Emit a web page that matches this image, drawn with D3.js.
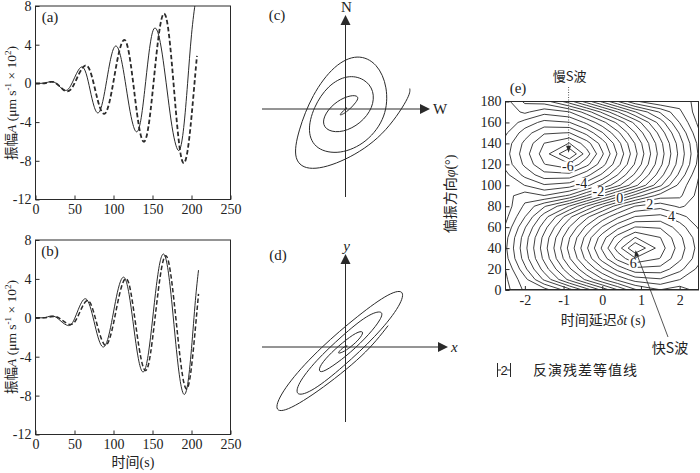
<!DOCTYPE html>
<html><head><meta charset="utf-8">
<script src="https://cdn.jsdelivr.net/npm/d3@7"></script>
<style>
body{margin:0;background:#fff}
svg{display:block}
text{font-family:'Liberation Serif','Noto Sans CJK SC',serif;fill:#222}
.cjk{font-family:'Noto Sans CJK SC','Liberation Serif',sans-serif}
</style>
</head><body>
<svg id="chart" width="700" height="473"></svg>
<script>
// ---------- data: waveforms (a) ----------
const timeA = [0,5,10,15,20,25,30,35,40,45,50,55,60,65,70,75,80,85,90,95,100,105,110,115,120,125,130,135,140,145,150,155,160,165,170,175,180,185,190,195,200,205,207];
const solidA = [0,0,0.02,0.1,0.2,0.09,-0.26,-0.61,-0.71,-0.26,0.58,1.37,1.7,1.0,-0.68,-2.35,-3.05,-2.27,-0.29,2.0,3.58,3.75,2.48,0.21,-2.32,-4.27,-5.0,-3.8,-0.72,2.84,5.29,5.61,4.22,1.61,-1.53,-4.45,-6.39,-6.83,-4.57,0.01,5.03,8.39,8.93];
const dashedA = [0,0,0,0.08,0.15,0.09,-0.22,-0.6,-0.81,-0.64,0.0,0.86,1.57,1.85,1.29,-0.14,-1.8,-2.94,-3.04,-1.86,0.21,2.44,4.04,4.44,3.06,0.21,-3.01,-5.37,-5.97,-4.36,-0.98,2.94,6.04,7.21,5.73,1.87,-2.9,-6.76,-8.24,-6.94,-3.44,1.08,2.84];
// ---------- data: waveforms (b) ----------
const timeB = [0,5,10,15,20,25,30,35,40,45,50,55,60,65,70,75,80,85,90,95,100,105,110,115,120,125,130,135,140,145,150,155,160,165,170,175,180,185,190,195,200,205,209];
const solidB = [0,0,0,0.08,0.19,0.12,-0.16,-0.51,-0.75,-0.74,-0.11,0.88,1.71,1.93,1.16,-0.36,-1.95,-2.91,-2.77,-1.45,0.59,2.62,3.94,4.02,2.4,-0.39,-3.31,-5.23,-5.39,-3.53,-0.23,3.32,5.86,6.51,4.87,1.41,-2.75,-6.21,-7.85,-6.87,-3.15,1.79,4.9];
const dashedB = [0,0,0,0.04,0.11,0.13,-0.01,-0.29,-0.56,-0.7,-0.46,0.26,1.12,1.72,1.55,0.46,-1.01,-2.27,-2.83,-2.15,-0.57,1.41,3.12,4.0,3.45,1.24,-1.58,-4.07,-5.38,-4.75,-2.18,1.19,4.31,6.2,5.95,3.52,-0.08,-3.81,-6.6,-7.2,-5.03,-1.06,2.46];
const waveXTicks = [0,50,100,150,200,250];
const waveYTicks = [8,4,0,-4,-8,-12];

// ---------- data: residual contour grid (e) ----------
const delayCols = [-2.5,-2,-1.5,-0.85,-0.4,0,0.4,0.85,1.5,2,2.5];
const phiRows = [0,10,20,30,40,50,60,70,80,90,100,110,120,130,140,150,160,170,180];
const residualGrid = [
  [-3.2,-2.4,-2.25,-1.22,-0.26,0.61,1.47,2.41,2.98,2.72,3.2],
  [-3.1,-2.17,-0.91,0.65,1.64,2.44,3.13,3.74,3.94,3.51,3.1],
  [-2.99,-1.63,-0.28,1.4,2.5,3.4,4.17,4.84,4.81,4.16,3.35],
  [-2.69,-1.27,0.13,1.94,3.17,4.21,5.15,5.93,5.48,4.61,3.68],
  [-2.59,-1.15,0.28,2.15,3.44,4.58,5.73,7.02,5.75,4.77,3.79],
  [-2.67,-1.25,0.16,1.97,3.2,4.27,5.23,6.02,5.51,4.63,3.7],
  [-2.93,-1.55,-0.2,1.51,2.63,3.55,4.34,5.02,4.94,4.25,3.42],
  [-3.15,-2.02,-0.73,0.85,1.87,2.68,3.38,4.02,4.16,3.69,3.15],
  [-3.3,-2.4,-1.57,-0.47,0.52,1.39,2.25,3.02,3.31,2.9,3.3],
  [-3.2,-2.72,-2.98,-2.41,-1.47,-0.61,0.26,1.22,2.25,2.4,3.2],
  [-3.1,-3.51,-3.94,-3.74,-3.13,-2.44,-1.64,-0.65,0.91,2.17,3.1],
  [-3.35,-4.16,-4.81,-4.84,-4.17,-3.4,-2.5,-1.4,0.28,1.63,2.99],
  [-3.68,-4.61,-5.48,-5.93,-5.15,-4.21,-3.17,-1.94,-0.13,1.27,2.69],
  [-3.79,-4.77,-5.75,-7.02,-5.73,-4.58,-3.44,-2.15,-0.28,1.15,2.59],
  [-3.7,-4.63,-5.51,-6.02,-5.23,-4.27,-3.2,-1.97,-0.16,1.25,2.67],
  [-3.42,-4.25,-4.94,-5.02,-4.34,-3.55,-2.63,-1.51,0.2,1.55,2.93],
  [-3.15,-3.69,-4.16,-4.02,-3.38,-2.68,-1.87,-0.85,0.73,2.02,3.15],
  [-3.3,-2.9,-3.31,-3.02,-2.25,-1.39,-0.52,0.47,1.57,2.4,3.3],
  [-3.2,-2.4,-2.25,-1.22,-0.26,0.61,1.47,2.41,2.98,2.72,3.2]
];
const contourLevels = [-6.5,-6,-5.5,-5,-4.5,-4,-3.5,-3,-2.5,-2,-1.5,-1,-0.5,0,0.5,1,1.5,2,2.5,3,3.5,4,4.5,5,5.5,6,6.5];
const contourLabelText = ["-6","-4","-2","0","2","4","6"];
const contourLabelDelay = [-0.89,-0.54,-0.1,0.45,1.23,1.79,0.8];
const contourLabelPhi = [118,102.5,94.6,88.3,82.5,70.5,25.4];
const delayTicks = [-2,-1,0,1,2];
const phiTicks = [0,20,40,60,80,100,120,140,160,180];

// ---------- drawing ----------
const svg = d3.select("#chart");
const ink = "#2a2a2a";

function waveformPanel(top, bottom, times, solid, dashed, tag, showXTitle, dashW){
  const h = bottom - top;
  const x = d3.scaleLinear().domain([0,250]).range([35.5,230.5]);
  const y = d3.scaleLinear().domain([-12,8]).range([bottom, top]);
  const g = svg.append("g");
  const cid = "clip"+tag;
  svg.append("clipPath").attr("id",cid).append("rect")
    .attr("x",35.5).attr("y",top).attr("width",195).attr("height",h);
  const ax = g.append("g").attr("transform",`translate(0,${bottom})`)
    .call(d3.axisBottom(x).tickValues(waveXTicks).tickSizeInner(-4).tickSizeOuter(0).tickPadding(5).tickFormat(d=>String(d)));
  const ay = g.append("g").attr("transform","translate(35.5,0)")
    .call(d3.axisLeft(y).tickValues(waveYTicks).tickSizeInner(-4).tickSizeOuter(0).tickPadding(4).tickFormat(d=>String(d)));
  [ax,ay].forEach(a=>{a.select(".domain").remove();a.selectAll("line").attr("stroke",ink);
    a.selectAll("text").style("font-size","14px").attr("fill",ink).style("font-family","'Liberation Serif',serif");});
  g.append("rect").attr("x",35.5).attr("y",top).attr("width",195).attr("height",h)
    .attr("fill","none").attr("stroke",ink).attr("stroke-width",1);
  const line = d3.line().x((d,i)=>x(times[i])).y(d=>y(d)).curve(d3.curveNatural);
  g.append("path").attr("clip-path",`url(#${cid})`).attr("d",line(solid))
    .attr("fill","none").attr("stroke",ink).attr("stroke-width",1);
  g.append("path").attr("clip-path",`url(#${cid})`).attr("d",line(dashed))
    .attr("fill","none").attr("stroke",ink).attr("stroke-width",dashW).attr("stroke-dasharray","4.5,2.5");
  g.append("text").attr("x",50).attr("y",top+16).attr("text-anchor","middle").style("font-size","15px").text(`(${tag})`);
  // y title
  const t = g.append("text").attr("transform",`translate(16,${top+97}) rotate(-90)`)
    .attr("text-anchor","middle").style("font-size","13.5px");
  t.append("tspan").attr("class","cjk").text("振幅");
  t.append("tspan").style("font-style","italic").text("A");
  t.append("tspan").text(" (μm s");
  t.append("tspan").attr("dy",-5).style("font-size","9px").text("-1");
  t.append("tspan").attr("dy",5).text(" × 10");
  t.append("tspan").attr("dy",-5).style("font-size","9px").text("2");
  t.append("tspan").attr("dy",5).text(")");
  if(showXTitle){
    const xt = g.append("text").attr("x",133).attr("y",467).attr("text-anchor","middle").style("font-size","14px");
    xt.append("tspan").attr("class","cjk").text("时间");
    xt.append("tspan").text("(s)");
  }
}
waveformPanel(6, 199.5, timeA, solidA, dashedA, "a", false, 1.8);
waveformPanel(240, 434.5, timeB, solidB, dashedB, "b", true, 1.5);

// particle motion panels
function arrowHead(g, tip, dir){
  const L=10, W=5;
  let pts;
  if(dir==="up") pts=[[tip[0],tip[1]],[tip[0]-W,tip[1]+L],[tip[0]+W,tip[1]+L]];
  else pts=[[tip[0],tip[1]],[tip[0]-L,tip[1]-W],[tip[0]-L,tip[1]+W]];
  g.append("path").attr("d","M"+pts.map(p=>p.join(",")).join("L")+"Z").attr("fill",ink);
}
function motionPanel(cx, cy, top, bottom, left, right, scale, xs, ys, tag, yLab, xLab, italic, labPos){
  const g = svg.append("g");
  g.append("line").attr("x1",cx).attr("x2",cx).attr("y1",top+8).attr("y2",bottom).attr("stroke",ink);
  g.append("line").attr("x1",left).attr("x2",right-8).attr("y1",cy).attr("y2",cy).attr("stroke",ink);
  arrowHead(g,[cx,top],"up");
  arrowHead(g,[right,cy],"right");
  const px = d3.scaleLinear().domain([-1,1]).range([cx-scale,cx+scale]);
  const py = d3.scaleLinear().domain([-1,1]).range([cy+scale,cy-scale]);
  const line = d3.line().x(d=>px(d[0])).y(d=>py(d[1])).curve(d3.curveNatural);
  g.append("path").attr("d",line(xs.map((v,i)=>[v,ys[i]]))).attr("fill","none").attr("stroke",ink).attr("stroke-width",1);
  g.append("text").attr("x",cx+1).attr("y",top-3).attr("text-anchor","middle").style("font-size","15px")
    .style("font-style",italic?"italic":"normal").text(yLab);
  g.append("text").attr("x",right+3).attr("y",cy+5).style("font-size","15px")
    .style("font-style",italic?"italic":"normal").text(xLab);
  g.append("text").attr("x",labPos[0]).attr("y",labPos[1]).attr("text-anchor","middle").style("font-size","15px").text(`(${tag})`);
}
motionPanel(345.5,109,15,197,262,430,7.2,solidA,dashedA,"c","N","W",false,[277,20]);
motionPanel(345.5,347,254,422,262,448,8.7,solidB,dashedB,"d","y","x",true,[278,260]);

// contour panel (e)
const xE = d3.scaleLinear().domain([-2.5,2.5]).range([505.5,699]);
const yE = d3.scaleLinear().domain([0,180]).range([290,101.5]);
const gE = svg.append("g");
svg.append("clipPath").attr("id","clipE").append("rect").attr("x",505.5).attr("y",101.5).attr("width",193.5).attr("height",188.5);
const nx = delayCols.length, ny = phiRows.length;
const flat = residualGrid.flat();
const cs = d3.contours().size([nx,ny]).thresholds(contourLevels)(flat);
const colS = d3.scaleLinear().domain(d3.range(nx)).range(delayCols).clamp(true);
const rowS = d3.scaleLinear().domain(d3.range(ny)).range(phiRows).clamp(true);
let dStr = "";
cs.forEach(c=>c.coordinates.forEach(poly=>poly.forEach(ring=>{
  dStr += "M" + ring.map(p=>[xE(colS(p[0]-0.5)).toFixed(2), yE(rowS(p[1]-0.5)).toFixed(2)].join(",")).join("L") + "Z";
})));
gE.append("path").attr("clip-path","url(#clipE)").attr("d",dStr).attr("fill","none").attr("stroke",ink).attr("stroke-width",0.9);
// labels
contourLabelText.forEach((t,i)=>{
  const lx = xE(contourLabelDelay[i]), ly = yE(contourLabelPhi[i]);
  const r = gE.append("rect").attr("fill","#fff");
  const tx = gE.append("text").attr("x",lx).attr("y",ly+5).attr("text-anchor","middle").style("font-size","14px").text(t);
  const bb = tx.node().getBBox();
  r.attr("x",bb.x-1).attr("y",bb.y+2).attr("width",bb.width+2).attr("height",bb.height-4);
});
const axE = gE.append("g").attr("transform","translate(0,290)")
  .call(d3.axisBottom(xE).tickValues(delayTicks).tickSizeInner(-4).tickSizeOuter(0).tickPadding(5).tickFormat(d=>String(d)));
const ayE = gE.append("g").attr("transform","translate(505.5,0)")
  .call(d3.axisLeft(yE).tickValues(phiTicks).tickSizeInner(-4).tickSizeOuter(0).tickPadding(4).tickFormat(d=>String(d)));
[axE,ayE].forEach(a=>{a.select(".domain").remove();a.selectAll("line").attr("stroke",ink);
  a.selectAll("text").style("font-size","14px").attr("fill",ink).style("font-family","'Liberation Serif',serif");});
gE.append("rect").attr("x",505.5).attr("y",101.5).attr("width",193).attr("height",188.5).attr("fill","none").attr("stroke",ink);
gE.append("text").attr("x",518).attr("y",93).attr("text-anchor","middle").style("font-size","15px").text("(e)");
const yt = gE.append("text").attr("transform","translate(455,194) rotate(-90)").attr("text-anchor","middle").style("font-size","14px");
yt.append("tspan").attr("class","cjk").text("偏振方向");
yt.append("tspan").style("font-style","italic").text("φ");
yt.append("tspan").text("(°)");
const xt = gE.append("text").attr("x",603).attr("y",325).attr("text-anchor","middle").style("font-size","14px");
xt.append("tspan").attr("class","cjk").text("时间延迟");
xt.append("tspan").style("font-style","italic").text("δt");
xt.append("tspan").text(" (s)");
// slow / fast S annotations
const slowX = xE(-0.87), slowY = yE(131);
gE.append("text").attr("x",slowX+1).attr("y",81).attr("text-anchor","middle").style("font-size","13px").attr("class","cjk").text("慢S波");
gE.append("line").attr("x1",slowX).attr("x2",slowX).attr("y1",87).attr("y2",slowY-6).attr("stroke",ink).attr("stroke-width",0.8).attr("stroke-dasharray","1,1.5");
gE.append("path").attr("d",`M${slowX},${slowY}L${slowX-2.5},${slowY-7}L${slowX+2.5},${slowY-7}Z`).attr("fill",ink);
const fastX = xE(0.86), fastY = yE(38);
gE.append("line").attr("x1",668).attr("y1",337).attr("x2",fastX+1).attr("y2",fastY+3).attr("stroke",ink).attr("stroke-width",0.8);
gE.append("path").attr("d",`M${fastX},${fastY}L${fastX-1.2},${fastY+7}L${fastX+3.6},${fastY+5.4}Z`).attr("fill",ink);
gE.append("text").attr("x",670).attr("y",353).attr("text-anchor","middle").style("font-size","14px").attr("class","cjk").text("快S波");
// legend
gE.append("path").attr("d","M497.5,363V377M497.5,370H501M510.5,363V377M510.5,370H507").attr("stroke",ink).attr("fill","none");
gE.append("text").attr("x",504).attr("y",375).attr("text-anchor","middle").style("font-size","13px").style("font-family","'Liberation Sans',sans-serif").text("2");
gE.append("text").attr("x",533).attr("y",375).style("font-size","14px").attr("class","cjk").style("letter-spacing","1px").text("反演残差等值线");
</script>
</body></html>
